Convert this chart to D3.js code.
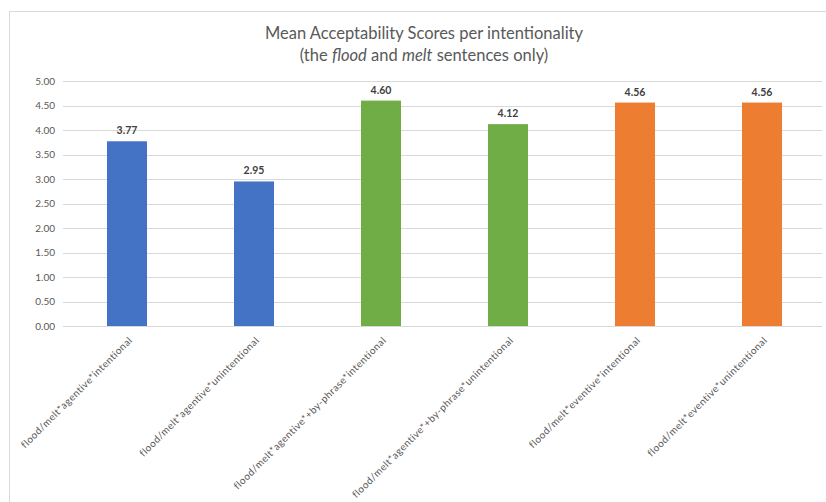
<!DOCTYPE html>
<head>
  <meta charset="utf-8">
  <title>Mean Acceptability Scores per intentionality</title>
<style>
html, body {
  margin: 0;
  padding: 0;
  background: #fff;
}
body {
  font-family: Lato, 'Open Sans', sans-serif;
}
.grid line {
  stroke: #d9d9d9;
}
.yaxis text, .xaxis text {
  fill: #595959;
}
</style>
</head>
<body>
<svg width="826" height="502"></svg>
<script src="https://d3js.org/d3.v7.min.js"></script>
<script>
var categories = [
  "flood/melt*agentive*intentional",
  "flood/melt*agentive*unintentional",
  "flood/melt*agentive*+by-phrase*intentional",
  "flood/melt*agentive*+by-phrase*unintentional",
  "flood/melt*eventive*intentional",
  "flood/melt*eventive*unintentional"
];
var scores = [3.77, 2.95, 4.60, 4.12, 4.56, 4.56];
var groups = ["agentive", "agentive", "by-phrase", "by-phrase", "eventive", "eventive"];
var yTicks = [0, 0.5, 1, 1.5, 2, 2.5, 3, 3.5, 4, 4.5, 5];

var svg = d3.select("svg");

// chart frame
svg.append("rect")
  .attr("x", 9.5).attr("y", 11.5)
  .attr("width", 830).attr("height", 520)
  .attr("fill", "#fff")
  .attr("stroke", "#d9d9d9");

var x = d3.scaleBand()
  .domain(categories)
  .range([63.5, 825.5])
  .paddingInner(0.685)
  .paddingOuter(0.3425);

var y = d3.scaleLinear()
  .domain([0, 5])
  .range([326, 81]);

var color = d3.scaleOrdinal()
  .domain(["agentive", "by-phrase", "eventive"])
  .range(["#4472c4", "#70ad47", "#ed7d31"]);

// gridlines
svg.append("g")
  .attr("class", "grid")
  .selectAll("line")
  .data(yTicks)
  .enter().append("line")
    .attr("x1", 63).attr("x2", 822)
    .attr("y1", function(d) { return Math.round(y(d)) + 0.5; })
    .attr("y2", function(d) { return Math.round(y(d)) + 0.5; });

// y tick labels
svg.append("g")
  .attr("class", "yaxis")
  .selectAll("text")
  .data(yTicks)
  .enter().append("text")
    .attr("x", 55)
    .attr("y", function(d) { return y(d); })
    .attr("dy", "0.35em")
    .attr("text-anchor", "end")
    .style("font-size", "10px")
    .text(function(d) { return d3.format(".2f")(d); });

// bars
svg.selectAll(".bar")
  .data(scores)
  .enter().append("rect")
    .attr("class", "bar")
    .attr("x", function(d, i) { return x(categories[i]); })
    .attr("width", x.bandwidth())
    .attr("y", function(d) { return y(d); })
    .attr("height", function(d) { return y(0) - y(d); })
    .attr("fill", function(d, i) { return color(groups[i]); });

// value labels
svg.selectAll(".val")
  .data(scores)
  .enter().append("text")
    .attr("class", "val")
    .attr("x", function(d, i) { return x(categories[i]) + x.bandwidth() / 2; })
    .attr("y", function(d) { return y(d) - 7; })
    .attr("text-anchor", "middle")
    .style("font-size", "10.5px")
    .style("font-weight", "bold")
    .style("fill", "#404040")
    .text(function(d) { return d3.format(".2f")(d); });

// x labels rotated
svg.append("g")
  .attr("class", "xaxis")
  .selectAll("text")
  .data(categories)
  .enter().append("text")
    .attr("transform", function(d) {
      return "translate(" + (x(d) + x.bandwidth() / 2 + 1) + ",336) rotate(-45)";
    })
    .attr("text-anchor", "end")
    .attr("dy", "0.7em")
    .style("font-size", "10px")
    .style("letter-spacing", "0.45px")
    .text(function(d) { return d; });

// title
var title = svg.append("text")
  .attr("x", 424)
  .attr("text-anchor", "middle")
  .style("font-size", "16.5px")
  .style("fill", "#595959");
title.append("tspan").attr("x", 424).attr("y", 39)
  .text("Mean Acceptability Scores per intentionality");
var line2 = title.append("tspan").attr("x", 424).attr("y", 61);
line2.append("tspan").text("(the ");
line2.append("tspan").style("font-style", "italic").text("flood");
line2.append("tspan").text(" and ");
line2.append("tspan").style("font-style", "italic").text("melt");
line2.append("tspan").text(" sentences only)");
</script>
</body>
